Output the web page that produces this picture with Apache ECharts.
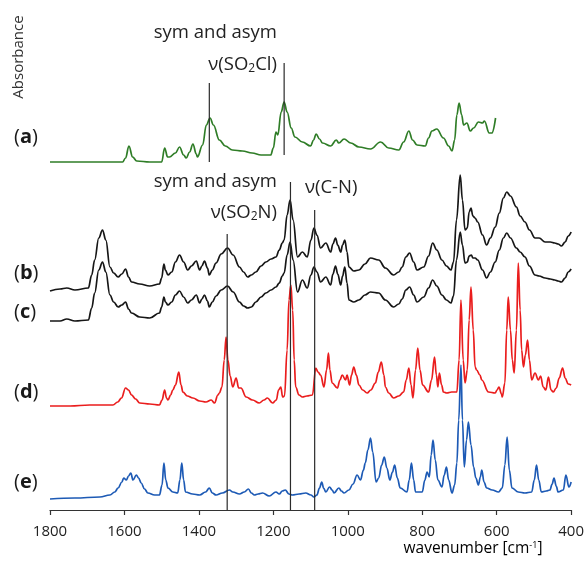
<!DOCTYPE html>
<html>
<head>
<meta charset="utf-8">
<script src="https://cdn.jsdelivr.net/npm/echarts@6/dist/echarts.min.js"></script>
<style>html,body{margin:0;padding:0;background:#fff}#c{width:587px;height:564px}</style>
</head>
<body>
<div id="c"></div>
<script>
// x ticks (cm-1)
const xTicks = [1800, 1600, 1400, 1200, 1000, 800, 600, 400];
// stacked absorbance (arbitrary units, already offset)
const specA = [[1800,3.48],[1693,3.48],[1605,3.48],[1597,3.52],[1588,3.64],[1578,3.53],[1567,3.49],[1532,3.48],[1500,3.48],[1492,3.62],[1484,3.53],[1479,3.53],[1463,3.57],[1452,3.63],[1441,3.55],[1434,3.52],[1425,3.58],[1416,3.66],[1407,3.56],[1404,3.53],[1390,3.65],[1380,3.85],[1370,3.92],[1361,3.85],[1345,3.70],[1329,3.64],[1310,3.60],[1283,3.59],[1257,3.57],[1233,3.55],[1207,3.55],[1200,3.62],[1193,3.78],[1188,3.75],[1179,3.98],[1171,4.08],[1163,3.98],[1152,3.82],[1142,3.73],[1122,3.68],[1100,3.64],[1092,3.70],[1085,3.76],[1076,3.71],[1068,3.67],[1046,3.64],[1031,3.70],[1024,3.67],[1010,3.71],[992,3.67],[970,3.63],[939,3.61],[912,3.68],[890,3.62],[863,3.60],[850,3.68],[836,3.79],[826,3.70],[814,3.65],[792,3.64],[783,3.72],[774,3.79],[761,3.81],[743,3.72],[729,3.64],[720,3.59],[713,3.70],[707,3.95],[701,4.07],[694,3.95],[689,3.85],[680,3.87],[671,3.79],[662,3.82],[649,3.88],[638,3.87],[633,3.89],[620,3.77],[613,3.77],[603,3.92]];
const specB = [[1800,2.19],[1773,2.21],[1755,2.22],[1733,2.20],[1697,2.22],[1688,2.35],[1680,2.50],[1669,2.72],[1659,2.80],[1650,2.70],[1639,2.43],[1629,2.37],[1617,2.33],[1607,2.36],[1597,2.41],[1589,2.33],[1581,2.28],[1559,2.26],[1532,2.24],[1506,2.26],[1500,2.32],[1494,2.46],[1490,2.40],[1483,2.35],[1473,2.38],[1463,2.48],[1452,2.55],[1441,2.48],[1430,2.40],[1420,2.44],[1407,2.49],[1398,2.40],[1392,2.44],[1385,2.49],[1377,2.42],[1372,2.35],[1364,2.40],[1354,2.47],[1340,2.56],[1323,2.62],[1308,2.55],[1291,2.43],[1280,2.38],[1269,2.33],[1259,2.35],[1247,2.38],[1233,2.44],[1220,2.48],[1206,2.51],[1193,2.53],[1184,2.60],[1176,2.67],[1171,2.70],[1163,2.95],[1155,3.10],[1147,2.90],[1135,2.53],[1122,2.58],[1109,2.53],[1099,2.70],[1091,2.82],[1083,2.75],[1073,2.62],[1059,2.67],[1046,2.58],[1040,2.66],[1033,2.72],[1027,2.65],[1019,2.58],[1014,2.65],[1008,2.70],[1002,2.58],[997,2.43],[984,2.39],[970,2.40],[954,2.46],[939,2.52],[917,2.50],[899,2.42],[877,2.35],[863,2.38],[854,2.43],[844,2.53],[834,2.57],[823,2.48],[814,2.40],[796,2.43],[783,2.54],[772,2.67],[761,2.60],[747,2.50],[735,2.44],[723,2.40],[716,2.48],[708,2.90],[698,3.35],[692,3.10],[685,2.80],[679,2.82],[674,2.98],[669,3.02],[664,2.94],[658,2.92],[651,2.88],[638,2.75],[627,2.65],[617,2.72],[604,2.83],[593,2.97],[582,3.12],[573,3.18],[563,3.14],[547,3.03],[537,2.94],[524,2.88],[512,2.80],[497,2.72],[486,2.72],[470,2.68],[456,2.68],[444,2.67],[435,2.66],[426,2.64],[416,2.68],[408,2.74],[400,2.78]];
const specC = [[1800,1.89],[1773,1.89],[1755,1.91],[1733,1.89],[1697,1.90],[1688,2.02],[1680,2.17],[1669,2.40],[1659,2.48],[1650,2.38],[1639,2.15],[1629,2.08],[1617,2.03],[1607,2.05],[1597,2.08],[1589,2.01],[1581,1.97],[1559,1.93],[1532,1.92],[1506,1.97],[1500,2.03],[1494,2.13],[1490,2.08],[1483,2.05],[1473,2.08],[1463,2.15],[1452,2.19],[1441,2.13],[1430,2.07],[1420,2.10],[1407,2.15],[1398,2.07],[1392,2.11],[1385,2.15],[1377,2.09],[1372,2.03],[1364,2.08],[1354,2.14],[1340,2.20],[1323,2.24],[1308,2.18],[1291,2.08],[1280,2.04],[1269,2.02],[1259,2.03],[1247,2.08],[1233,2.13],[1220,2.17],[1206,2.20],[1193,2.23],[1184,2.27],[1176,2.34],[1171,2.37],[1163,2.55],[1155,2.68],[1147,2.50],[1135,2.18],[1122,2.30],[1109,2.22],[1099,2.35],[1091,2.43],[1083,2.38],[1073,2.28],[1059,2.33],[1046,2.25],[1040,2.36],[1033,2.44],[1027,2.36],[1019,2.25],[1014,2.34],[1008,2.43],[1002,2.27],[997,2.10],[984,2.08],[970,2.10],[954,2.15],[939,2.18],[917,2.17],[899,2.10],[877,2.03],[863,2.06],[854,2.11],[844,2.20],[834,2.23],[823,2.15],[814,2.08],[796,2.13],[783,2.22],[772,2.30],[761,2.24],[747,2.15],[735,2.10],[723,2.07],[716,2.14],[708,2.50],[698,2.78],[692,2.65],[685,2.47],[679,2.48],[674,2.54],[668,2.55],[664,2.52],[658,2.52],[651,2.50],[638,2.40],[627,2.32],[617,2.38],[604,2.48],[593,2.60],[582,2.72],[573,2.77],[563,2.72],[547,2.62],[537,2.58],[524,2.53],[512,2.44],[497,2.35],[486,2.34],[470,2.32],[456,2.31],[444,2.30],[435,2.29],[426,2.28],[416,2.32],[408,2.38],[400,2.41]];
const specD = [[1800,1.04],[1746,1.04],[1693,1.05],[1631,1.05],[1618,1.08],[1608,1.12],[1597,1.22],[1589,1.20],[1581,1.15],[1570,1.11],[1559,1.07],[1532,1.06],[1506,1.05],[1499,1.10],[1492,1.20],[1487,1.12],[1483,1.10],[1476,1.15],[1470,1.20],[1463,1.25],[1454,1.38],[1448,1.25],[1443,1.18],[1431,1.14],[1416,1.12],[1398,1.09],[1381,1.08],[1367,1.10],[1358,1.07],[1349,1.15],[1345,1.17],[1338,1.23],[1332,1.50],[1327,1.73],[1322,1.50],[1316,1.34],[1309,1.23],[1300,1.32],[1293,1.22],[1287,1.22],[1273,1.13],[1256,1.10],[1238,1.07],[1225,1.10],[1216,1.12],[1202,1.07],[1192,1.10],[1186,1.20],[1180,1.23],[1175,1.13],[1170,1.14],[1163,1.60],[1158,2.10],[1153,2.25],[1148,2.00],[1144,1.50],[1140,1.23],[1131,1.15],[1122,1.13],[1110,1.14],[1095,1.15],[1086,1.42],[1080,1.38],[1073,1.35],[1064,1.23],[1057,1.40],[1052,1.57],[1048,1.40],[1042,1.27],[1028,1.22],[1021,1.30],[1015,1.35],[1006,1.30],[1002,1.35],[995,1.25],[990,1.35],[984,1.43],[977,1.35],[970,1.25],[960,1.20],[948,1.17],[938,1.20],[926,1.27],[918,1.38],[910,1.48],[903,1.35],[899,1.23],[890,1.17],[877,1.12],[863,1.14],[850,1.18],[843,1.30],[836,1.42],[830,1.25],[825,1.12],[818,1.40],[812,1.62],[806,1.40],[799,1.25],[783,1.18],[775,1.30],[767,1.53],[762,1.35],[758,1.23],[754,1.37],[748,1.25],[743,1.18],[734,1.17],[721,1.18],[707,1.18],[701,1.50],[696,2.10],[690,1.50],[685,1.27],[679,1.40],[674,1.90],[669,2.23],[663,1.80],[658,1.43],[654,1.40],[645,1.35],[640,1.30],[622,1.18],[604,1.17],[599,1.20],[594,1.23],[587,1.16],[585,1.13],[578,1.27],[573,1.80],[569,2.13],[563,1.80],[558,1.50],[553,1.37],[547,1.80],[542,2.47],[537,2.00],[533,1.60],[528,1.43],[523,1.55],[517,1.70],[512,1.50],[506,1.30],[497,1.37],[488,1.30],[482,1.34],[475,1.23],[468,1.20],[461,1.33],[454,1.20],[448,1.18],[440,1.22],[432,1.32],[423,1.42],[416,1.32],[408,1.26],[400,1.25]];
const specE = [[1800,0.11],[1733,0.12],[1666,0.13],[1639,0.15],[1626,0.18],[1617,0.22],[1607,0.28],[1602,0.32],[1595,0.30],[1589,0.34],[1583,0.37],[1577,0.30],[1568,0.35],[1562,0.32],[1555,0.27],[1546,0.21],[1537,0.17],[1519,0.15],[1506,0.15],[1499,0.25],[1494,0.47],[1489,0.30],[1483,0.22],[1470,0.18],[1457,0.17],[1451,0.30],[1446,0.47],[1441,0.30],[1436,0.18],[1417,0.16],[1398,0.15],[1382,0.18],[1372,0.22],[1364,0.17],[1354,0.15],[1337,0.17],[1318,0.20],[1309,0.18],[1291,0.16],[1278,0.18],[1267,0.21],[1259,0.17],[1251,0.15],[1241,0.16],[1229,0.17],[1211,0.14],[1193,0.18],[1184,0.16],[1176,0.19],[1168,0.20],[1158,0.16],[1149,0.15],[1131,0.16],[1113,0.17],[1099,0.15],[1091,0.13],[1083,0.15],[1076,0.22],[1070,0.28],[1065,0.22],[1059,0.18],[1049,0.23],[1042,0.20],[1037,0.17],[1024,0.22],[1017,0.19],[1010,0.17],[997,0.20],[986,0.26],[975,0.35],[966,0.30],[958,0.40],[953,0.47],[946,0.60],[939,0.72],[933,0.58],[924,0.28],[917,0.32],[909,0.45],[902,0.53],[895,0.42],[887,0.30],[880,0.38],[874,0.45],[867,0.32],[859,0.22],[841,0.18],[835,0.30],[829,0.47],[823,0.30],[818,0.18],[800,0.18],[793,0.30],[787,0.38],[781,0.33],[776,0.55],[771,0.70],[765,0.50],[758,0.30],[747,0.23],[741,0.35],[735,0.43],[729,0.30],[720,0.17],[713,0.25],[707,0.47],[702,0.90],[696,1.45],[692,0.90],[687,0.43],[681,0.70],[676,0.88],[669,0.65],[662,0.43],[656,0.32],[649,0.25],[644,0.33],[640,0.40],[634,0.28],[627,0.22],[612,0.20],[595,0.18],[585,0.22],[578,0.45],[572,0.73],[566,0.40],[559,0.22],[542,0.18],[524,0.17],[506,0.18],[499,0.30],[493,0.45],[487,0.30],[480,0.18],[467,0.19],[457,0.20],[451,0.26],[446,0.32],[440,0.24],[435,0.18],[421,0.20],[414,0.35],[406,0.23],[400,0.28]];
// vertical band markers: [wavenumber, from, to]
const bandMarks = [[1372,3.48,4.27],[1171,3.55,4.47],[1324,0,2.76],[1154,0,3.28],[1089,0,3.00]];
const spectraNames = ['(a)','(b)','(c)','(d)','(e)'];
const spectraColors = ['#2f7d27','#161616','#161616','#ea1d1d','#1d5ab5'];

const chart = echarts.init(document.getElementById('c'), null, {renderer:'canvas'});
const FONT = '"Open Sans", "Liberation Sans", sans-serif';
const spectra = [specA, specB, specC, specD, specE];
const series = spectra.map((d, i) => ({
  type: 'line', name: spectraNames[i], data: d, showSymbol: false, symbol: 'none',
  smooth: 0.4, smoothMonotone: 'x',
  lineStyle: {color: spectraColors[i], width: 1.7}, z: 2, animation: false
}));
bandMarks.forEach(m => series.push({
  type: 'line', data: [[m[0], m[1]], [m[0], m[2]]], showSymbol: false, symbol: 'none',
  lineStyle: {color: '#2b2b2b', width: 1.2}, z: 3, animation: false
}));

const labRich = {p:{fontFamily:FONT,fontSize:20,color:'#1a1a1a'}, b:{fontFamily:FONT,fontSize:20,fontWeight:'bold',color:'#1a1a1a'}};
const labY = [137, 273, 312, 392, 482];
const graphics = spectraNames.map((n, i) => ({
  type:'text', x: 14, y: labY[i],
  style:{text:'{p|(}{b|' + n[1] + '}{p|)}', rich: labRich, verticalAlign:'middle', fill:'#1a1a1a'}
}));
const annRich = {n:{fontFamily:FONT,fontSize:18.5,color:'#222'}, s:{fontFamily:FONT,fontSize:12,color:'#222',padding:[8,0,0,0]}};
function ann(text, x, y, align){
  return {type:'text', x:x, y:y, style:{text:text, rich:annRich, align:align, verticalAlign:'middle', fill:'#222'}};
}
graphics.push(ann('{n|sym and asym}', 277, 33, 'right'));
graphics.push(ann('{n|ν(SO}{s|2}{n|Cl)}', 277, 65, 'right'));
graphics.push(ann('{n|sym and asym}', 277, 182, 'right'));
graphics.push(ann('{n|ν(SO}{s|2}{n|N)}', 277, 213, 'right'));
graphics.push(ann('{n|ν(C-N)}', 305, 188, 'left'));
graphics.push({type:'text', x:19, y:57, rotation:Math.PI/2,
  style:{text:'Absorbance', font:'15px ' + FONT, fill:'#333', align:'center', verticalAlign:'middle'}});
graphics.push({type:'text', x:473, y:549,
  style:{text:'{n|wavenumber [cm}{u|-1}{n|]}', align:'center', verticalAlign:'middle',
    rich:{n:{fontFamily:FONT,fontSize:15.5,color:'#222'}, u:{fontFamily:FONT,fontSize:9,color:'#222',padding:[0,0,8,0]}}}});

chart.setOption({
  animation: false,
  backgroundColor: '#fff',
  grid: {left: 50, right: 14, top: 0, bottom: 54, containLabel: false},
  xAxis: {
    type: 'value', inverse: true, min: xTicks[xTicks.length-1], max: xTicks[0], interval: 200,
    axisLine: {show: true, onZero: false, lineStyle: {color: '#333', width: 1.2}},
    axisTick: {show: true, length: 5, lineStyle: {color: '#333', width: 1.2}},
    splitLine: {show: false},
    axisLabel: {margin: 14, fontSize: 15, fontFamily: FONT, color: '#222', formatter: v => String(v)}
  },
  yAxis: {type: 'value', min: 0, max: 5.10, show: false},
  series: series,
  graphic: graphics
});
</script>
</body>
</html>
